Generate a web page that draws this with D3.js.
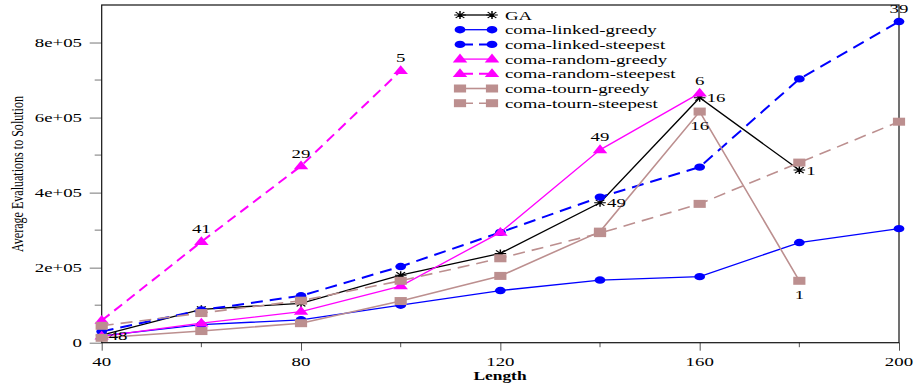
<!DOCTYPE html>
<html>
<head>
<meta charset="utf-8">
<script src="https://cdn.jsdelivr.net/npm/d3@7"></script>
<style>
  body { margin: 0; background: #fff; }
  text { font-family: "Liberation Serif", "Times New Roman", serif; }
</style>
</head>
<body>
<div id="chart"></div>
<script>
// chart values
var lengths = [40, 60, 80, 100, 120, 140, 160, 180, 200];
var gaVals = [20000, 89000, 105000, 180000, 238000, 373000, 653000, 460000];
var linkedGreedy = [18000, 48000, 61000, 100000, 139000, 167000, 176000, 267000, 304000];
var linkedSteepest = [30000, 87000, 125000, 203000, 294000, 388000, 468000, 703000, 856000];
var randomGreedy = [17000, 52000, 83000, 151000, 294000, 514000, 665000];
var randomSteepest = [59000, 269000, 471000, 725000];
var tournGreedy = [13000, 31000, 52000, 111000, 178000, 296000, 616000, 165000];
var tournSteepest = [45000, 79000, 112000, 165000, 225000, 292000, 370000, 480000, 589000];

var seriesNames = ["GA", "coma-linked-greedy", "coma-linked-steepest", "coma-random-greedy",
  "coma-random-steepest", "coma-tourn-greedy", "coma-tourn-steepest"];
var seriesVals = [gaVals, linkedGreedy, linkedSteepest, randomGreedy, randomSteepest, tournGreedy, tournSteepest];

var xMajor = [40, 80, 120, 160, 200];
var xMinor = [60, 100, 140, 180];
var yMajor = [0, 200000, 400000, 600000, 800000];
var yMinor = [100000, 300000, 500000, 700000];
var yTickText = ["0", "2e+05", "4e+05", "6e+05", "8e+05"];

// run counts written next to some points: [series index, length, text, side]
var pointNotes = [
  [0, 40, "48", "right"], [0, 140, "49", "right"], [0, 160, "16", "right"], [0, 180, "1", "right"],
  [2, 200, "39", "above"],
  [3, 140, "49", "above"], [3, 160, "6", "above"],
  [4, 60, "41", "above"], [4, 80, "29", "above"], [4, 100, "5", "above"],
  [5, 160, "16", "below"], [5, 180, "1", "below"]
];

// looks
var colors = ["#000", "#0000ff", "#0000ff", "#ff00ff", "#ff00ff", "#bc8f8f", "#bc8f8f"];
var dashes = [null, null, "12,7", null, "10,6", null, "12,7"];
var widths = [1.3, 1.3, 2, 1.3, 2, 1.6, 1.6];
var shapes = ["star", "circle", "circle", "tri", "tri", "square", "square"];
var sx = 1.45; // everything in the picture is stretched sideways

var W = 915, H = 387;
var svg = d3.select("#chart").append("svg")
  .attr("width", W)
  .attr("height", H);

var x = d3.scaleLinear().domain([40, 200]).range([101.7, 899]);
var y = d3.scaleLinear().domain([0, 900000]).range([342.7, 5]);

function label(g, px, py, str, anchor, size) {
  return g.append("text")
    .attr("transform", "translate(" + px + "," + py + ") scale(" + sx + ",1)")
    .attr("text-anchor", anchor || "start")
    .attr("dy", "0.35em")
    .style("font-size", (size || 13) + "px")
    .attr("fill", "#000")
    .text(str);
}

function marker(g, shape, px, py, color) {
  var m = g.append("g")
    .attr("transform", "translate(" + px + "," + py + ") scale(" + sx + ",1)");
  if (shape === "circle") {
    m.append("circle").attr("r", 3.7).attr("fill", color);
  } else if (shape === "tri") {
    m.append("path").attr("d", "M0,-5.5L5,3.3L-5,3.3Z").attr("fill", color);
  } else if (shape === "square") {
    m.append("rect").attr("x", -4.2).attr("y", -4).attr("width", 8.4).attr("height", 8).attr("fill", color);
  } else {
    m.append("path")
      .attr("d", "M-4,0L4,0M0,-4L0,4M-3,-3L3,3M-3,3L3,-3")
      .attr("stroke", color)
      .attr("stroke-width", 1);
  }
}

// axes
var xAxis = svg.append("g").attr("transform", "translate(0,342.7)");
xAxis.call(d3.axisBottom(x).tickValues(xMajor).tickSize(8).tickFormat(""));
xAxis.selectAll(".tick line").attr("stroke", "#555");
xAxis.select(".domain").remove();
xAxis.selectAll(".minor").data(xMinor).enter().append("line")
  .attr("x1", function(d){ return x(d); })
  .attr("x2", function(d){ return x(d); })
  .attr("y1", 0).attr("y2", 4.5)
  .attr("stroke", "#555");

var yAxis = svg.append("g").attr("transform", "translate(101.7,0)");
yAxis.call(d3.axisLeft(y).tickValues(yMajor).tickSize(12).tickFormat(""));
yAxis.selectAll(".tick line").attr("stroke", "#777");
yAxis.select(".domain").remove();
yAxis.selectAll(".minor").data(yMinor).enter().append("line")
  .attr("y1", function(d){ return y(d); })
  .attr("y2", function(d){ return y(d); })
  .attr("x1", 0).attr("x2", -7)
  .attr("stroke", "#777");

xMajor.forEach(function(d){ label(svg, x(d), 361.5, d, "middle"); });
yMajor.forEach(function(d, i){ label(svg, 82, y(d), yTickText[i], "end"); });

// frame
svg.append("rect")
  .attr("x", x(40)).attr("y", y(900000))
  .attr("width", x(200) - x(40)).attr("height", y(0) - y(900000))
  .attr("fill", "none")
  .attr("stroke", "#111")
  .attr("stroke-width", 1.2);

// titles
svg.append("text")
  .attr("transform", "translate(500,376) scale(" + sx + ",1)")
  .attr("text-anchor", "middle")
  .attr("dy", "0.35em")
  .style("font-size", "12px")
  .attr("font-weight", "bold")
  .text("Length");

svg.append("text")
  .attr("transform", "translate(17.5,174) scale(" + sx + ",1) rotate(-90)")
  .attr("text-anchor", "middle")
  .attr("dy", "0.35em")
  .attr("textLength", 156)
  .attr("lengthAdjust", "spacingAndGlyphs")
  .style("font-size", "11.5px")
  .text("Average Evaluations to Solution");

// series
var line = d3.line()
  .x(function(d, i){ return x(lengths[i]); })
  .y(function(d){ return y(d); });

seriesVals.forEach(function(vals, s) {
  svg.append("path")
    .attr("d", line(vals))
    .attr("fill", "none")
    .attr("stroke", colors[s])
    .attr("stroke-width", widths[s])
    .attr("stroke-dasharray", dashes[s]);
  vals.forEach(function(v, i) {
    marker(svg, shapes[s], x(lengths[i]), y(v), colors[s]);
  });
});

// notes
pointNotes.forEach(function(n) {
  var v = seriesVals[n[0]][lengths.indexOf(n[1])];
  var px = x(n[1]), py = y(v);
  if (n[3] === "right") label(svg, px + 7, py, n[2], "start");
  else if (n[3] === "above") label(svg, px, py - 13, n[2], "middle");
  else label(svg, px, py + 14, n[2], "middle");
});

// legend
var legend = svg.append("g");
seriesNames.forEach(function(name, s) {
  var ly = 15 + s * 14.7;
  legend.append("line")
    .attr("x1", 460).attr("x2", 492)
    .attr("y1", ly).attr("y2", ly)
    .attr("stroke", colors[s])
    .attr("stroke-width", widths[s])
    .attr("stroke-dasharray", dashes[s] ? "9,6" : null)
    .attr("stroke-dashoffset", dashes[s] ? -4 : null);
  marker(legend, shapes[s], 460, ly, colors[s]);
  marker(legend, shapes[s], 492, ly, colors[s]);
  label(legend, 505, ly, name, "start");
});
</script>
</body>
</html>
